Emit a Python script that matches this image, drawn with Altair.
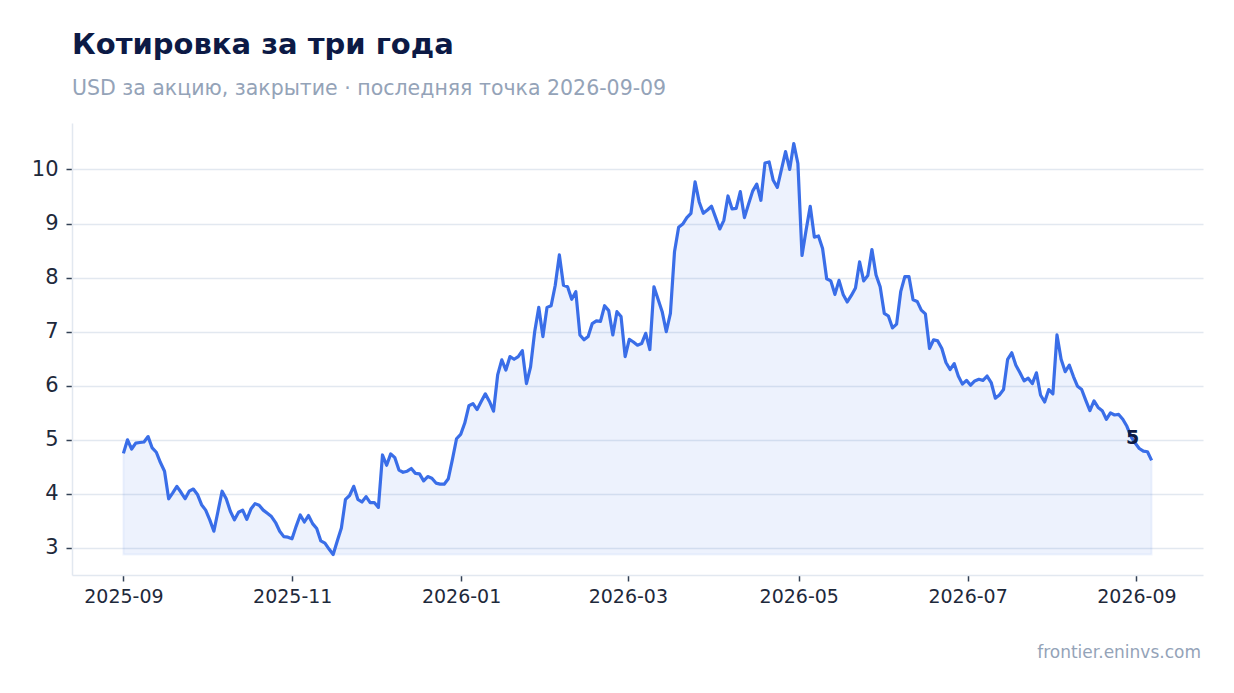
import altair as alt
import pandas as pd

title = "Котировка за три года"
subtitle = "USD за акцию, закрытие · последняя точка 2026-09-09"
source = "frontier.eninvs.com"

first_day = "2025-09-01"
last_day = "2026-09-09"

# closing price (evenly spaced points)
close = [
    4.75, 5.00, 4.83, 4.94, 4.95, 4.96, 5.06, 4.85, 4.77, 4.58,
    4.42, 3.91, 4.02, 4.14, 4.03, 3.91, 4.05, 4.09, 3.99, 3.80,
    3.70, 3.52, 3.31, 3.68, 4.05, 3.91, 3.68, 3.52, 3.66, 3.70,
    3.53, 3.72, 3.82, 3.79, 3.70, 3.64, 3.58, 3.47, 3.31, 3.21,
    3.20, 3.17, 3.40, 3.61, 3.48, 3.60, 3.45, 3.36, 3.13, 3.09,
    2.98, 2.88, 3.13, 3.37, 3.90, 3.97, 4.14, 3.90, 3.85, 3.95,
    3.84, 3.84, 3.75, 4.72, 4.53, 4.74, 4.67, 4.44, 4.40, 4.42,
    4.47, 4.38, 4.37, 4.24, 4.32, 4.29, 4.20, 4.18, 4.18, 4.28,
    4.64, 5.02, 5.10, 5.31, 5.63, 5.67, 5.56, 5.71, 5.85, 5.71,
    5.53, 6.20, 6.48, 6.29, 6.54, 6.49, 6.54, 6.65, 6.04, 6.35,
    7.00, 7.45, 6.91, 7.45, 7.48, 7.86, 8.42, 7.86, 7.83, 7.60,
    7.74, 6.94, 6.85, 6.91, 7.15, 7.20, 7.19, 7.48, 7.39, 6.94,
    7.37, 7.28, 6.54, 6.86, 6.81, 6.75, 6.78, 6.97, 6.67, 7.83,
    7.60, 7.37, 7.00, 7.34, 8.48, 8.93, 8.99, 9.11, 9.19, 9.77,
    9.40, 9.19, 9.25, 9.32, 9.11, 8.90, 9.06, 9.51, 9.27, 9.28,
    9.59, 9.11, 9.36, 9.60, 9.73, 9.43, 10.12, 10.14, 9.80, 9.67,
    10.00, 10.33, 10.00, 10.48, 10.11, 8.41, 8.88, 9.32, 8.75, 8.77,
    8.54, 7.98, 7.94, 7.69, 7.95, 7.69, 7.55, 7.67, 7.81, 8.29,
    7.94, 8.04, 8.52, 8.05, 7.83, 7.34, 7.29, 7.07, 7.14, 7.74,
    8.02, 8.02, 7.59, 7.56, 7.40, 7.33, 6.69, 6.85, 6.83, 6.69,
    6.43, 6.30, 6.41, 6.18, 6.03, 6.10, 6.01, 6.09, 6.12, 6.10,
    6.18, 6.06, 5.77, 5.83, 5.93, 6.49, 6.61, 6.38, 6.24, 6.09,
    6.14, 6.04, 6.24, 5.83, 5.70, 5.93, 5.85, 6.94, 6.49, 6.26,
    6.38, 6.17, 5.99, 5.93, 5.73, 5.54, 5.72, 5.60, 5.54, 5.38,
    5.50, 5.46, 5.47, 5.38, 5.25, 5.06, 4.94, 4.84, 4.79, 4.78,
    4.62,
]

# x ticks sit at evenly spaced instants (every ~61 days), labelled by month
tick_times = [
    "2025-09-01 00:00", "2025-11-01 06:00", "2026-01-01 12:00",
    "2026-03-03 00:00", "2026-05-04 00:00", "2026-07-04 06:00",
    "2026-09-03 12:00",
]
y_ticks = [3, 4, 5, 6, 7, 8, 9, 10]

LINE = "#3a6ee8"
NAVY = "#0c1a45"
MUTED = "#94a3b8"
GRID = "#e2e8f0"
INK = "#1e293b"

df = pd.DataFrame({
    "Date": pd.date_range(first_day, last_day, periods=len(close)),
    "Close": close,
})
df["Floor"] = df["Close"].min()

# 5% breathing room on both axes
lo, hi = df["Close"].min(), df["Close"].max()
y_pad = (hi - lo) * 0.05
t0, t1 = df["Date"].iloc[0], df["Date"].iloc[-1]
t_pad = (t1 - t0) * 0.05


def to_dt(ts):
    ts = pd.Timestamp(ts)
    return alt.DateTime(year=ts.year, month=ts.month, date=ts.day,
                        hours=ts.hour, minutes=ts.minute)


x_scale = alt.Scale(domain=[to_dt(t0 - t_pad), to_dt(t1 + t_pad)])
y_scale = alt.Scale(domain=[lo - y_pad, hi + y_pad], nice=False, zero=False)

x_axis = alt.X(
    "Date:T",
    title=None,
    scale=x_scale,
    axis=alt.Axis(
        values=[to_dt(t) for t in tick_times],
        format="%Y-%m",
        grid=False,
        labelFontSize=19,
        labelPadding=6,
    ),
)
y_axis = alt.Y(
    "Close:Q",
    title=None,
    scale=y_scale,
    axis=alt.Axis(values=y_ticks, format="d", labelFontSize=21, labelPadding=8),
)

area = (
    alt.Chart(df)
    .mark_area(color=LINE, fillOpacity=0.09, stroke=LINE, strokeOpacity=0.07, strokeWidth=2)
    .encode(x=x_axis, y=y_axis, y2="Floor:Q")
)

line = (
    alt.Chart(df)
    .mark_line(color=LINE, strokeWidth=3.2, strokeJoin="round")
    .encode(x=x_axis, y=y_axis)
)

last_label = (
    alt.Chart(df.tail(1))
    .mark_text(dx=-19, dy=-22, fontSize=19, fontWeight="bold", color=NAVY)
    .encode(x=x_axis, y=y_axis, text=alt.Text("Close:Q", format=".0f"))
)

footer = (
    alt.Chart(pd.DataFrame({"t": [source]}))
    .mark_text(align="right", baseline="alphabetic", fontSize=17, color=MUTED)
    .encode(x=alt.value(1129), y=alt.value(535), text="t:N")
)

chart = (
    (area + line + last_label + footer)
    .properties(
        width=1131,
        height=452,
        autosize=alt.AutoSizeParams(type="none"),
        padding={"left": 64, "top": 115, "right": 23, "bottom": 100},
        title=alt.TitleParams(
            text=title,
            subtitle=subtitle,
            anchor="start",
            frame="group",
            fontSize=29,
            fontWeight="bold",
            color=NAVY,
            subtitleFontSize=20.5,
            subtitleColor=MUTED,
            subtitlePadding=19,
            offset=24,
        ),
    )
    .configure(font="DejaVu Sans", background="white")
    .configure_axis(
        domainColor=GRID,
        domainWidth=1.5,
        gridColor=GRID,
        gridWidth=1.5,
        tickColor="#334155",
        tickSize=6,
        tickWidth=1.5,
        labelColor=INK,
        labelFont="DejaVu Sans",
    )
    .configure_view(stroke=None)
)

chart.save("out.html", embed_options={"renderer": "svg", "actions": False})
